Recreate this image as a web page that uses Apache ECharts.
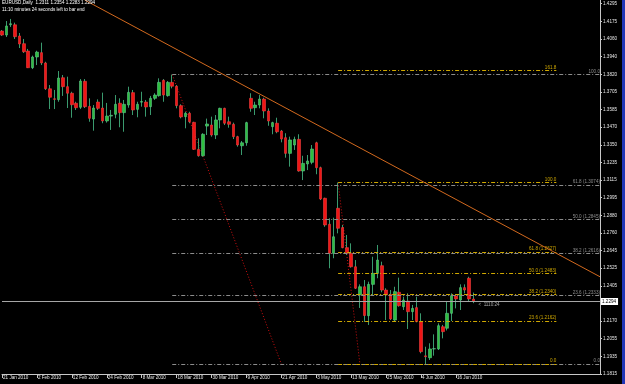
<!DOCTYPE html>
<html><head><meta charset="utf-8">
<script src="https://cdn.jsdelivr.net/npm/echarts@6/dist/echarts.min.js"></script>
<style>html,body{margin:0;padding:0;background:#000;}#c{width:625px;height:384px;}</style>
</head><body><div id="c"></div>
<script>
// ---- data ----
const dates = ['21 Jan 2010','22 Jan 2010','25 Jan 2010','26 Jan 2010','27 Jan 2010','28 Jan 2010','29 Jan 2010','1 Feb 2010',
'2 Feb 2010','3 Feb 2010','4 Feb 2010','5 Feb 2010','8 Feb 2010','9 Feb 2010','10 Feb 2010','11 Feb 2010',
'12 Feb 2010','15 Feb 2010','16 Feb 2010','17 Feb 2010','18 Feb 2010','19 Feb 2010','22 Feb 2010','23 Feb 2010',
'24 Feb 2010','25 Feb 2010','26 Feb 2010','1 Mar 2010','2 Mar 2010','3 Mar 2010','4 Mar 2010','5 Mar 2010',
'8 Mar 2010','9 Mar 2010','10 Mar 2010','11 Mar 2010','12 Mar 2010','15 Mar 2010','16 Mar 2010','17 Mar 2010',
'18 Mar 2010','19 Mar 2010','22 Mar 2010','23 Mar 2010','24 Mar 2010','25 Mar 2010','26 Mar 2010','29 Mar 2010',
'30 Mar 2010','31 Mar 2010','1 Apr 2010','2 Apr 2010','5 Apr 2010','6 Apr 2010','7 Apr 2010','8 Apr 2010',
'9 Apr 2010','12 Apr 2010','13 Apr 2010','14 Apr 2010','15 Apr 2010','16 Apr 2010','19 Apr 2010','20 Apr 2010',
'21 Apr 2010','22 Apr 2010','23 Apr 2010','26 Apr 2010','27 Apr 2010','28 Apr 2010','29 Apr 2010','30 Apr 2010',
'3 May 2010','4 May 2010','5 May 2010','6 May 2010','7 May 2010','10 May 2010','11 May 2010','12 May 2010',
'13 May 2010','14 May 2010','17 May 2010','18 May 2010','19 May 2010','20 May 2010','21 May 2010','24 May 2010',
'25 May 2010','26 May 2010','27 May 2010','28 May 2010','31 May 2010','1 Jun 2010','2 Jun 2010','3 Jun 2010',
'4 Jun 2010','7 Jun 2010','8 Jun 2010','9 Jun 2010','10 Jun 2010','11 Jun 2010','14 Jun 2010','15 Jun 2010',
'16 Jun 2010','17 Jun 2010','18 Jun 2010','21 Jun 2010','22 Jun 2010'];

const open = [1.4107,1.4080,1.4149,1.4149,1.4074,1.4022,1.3973,1.3861,1.3933,1.3962,
1.3893,1.3720,1.3653,1.3647,1.3794,1.3734,1.3690,1.3623,1.3596,1.3770,
1.3602,1.3517,1.3631,1.3591,1.3504,1.3537,1.3549,1.3623,1.3560,1.3611,
1.3694,1.3582,1.3630,1.3631,1.3600,1.3656,1.3674,1.3777,1.3674,1.3763,
1.3737,1.3607,1.3533,1.3556,1.3495,1.3314,1.3271,1.3470,1.3477,1.3410,
1.3511,1.3589,1.3499,1.3482,1.3399,1.3338,1.3358,1.3656,1.3593,1.3611,
1.3651,1.3571,1.3466,1.3489,1.3437,1.3392,1.3287,1.3343,1.3381,1.3169,
1.3216,1.3227,1.3358,1.3191,1.2986,1.2812,1.2617,1.2919,1.2789,1.2655,
1.2617,1.2527,1.2338,1.2393,1.2199,1.2409,1.2483,1.2534,1.2371,1.2342,
1.2170,1.2356,1.2259,1.2297,1.2226,1.2253,1.2159,1.1930,1.1917,1.1976,
1.1976,1.2125,1.2115,1.2215,1.2331,1.2304,1.2387,1.2450,1.2311];
const close = [1.4080,1.4141,1.4156,1.4069,1.4020,1.3968,1.3861,1.3933,1.3966,1.3893,
1.3720,1.3663,1.3649,1.3792,1.3734,1.3690,1.3613,1.3593,1.3772,1.3600,
1.3522,1.3591,1.3589,1.3504,1.3537,1.3542,1.3616,1.3560,1.3616,1.3696,
1.3578,1.3616,1.3635,1.3598,1.3656,1.3678,1.3763,1.3678,1.3763,1.3737,
1.3607,1.3531,1.3556,1.3499,1.3314,1.3271,1.3415,1.3484,1.3410,1.3511,
1.3589,1.3489,1.3482,1.3399,1.3343,1.3358,1.3493,1.3589,1.3611,1.3651,
1.3571,1.3504,1.3493,1.3432,1.3383,1.3287,1.3377,1.3381,1.3169,1.3220,
1.3236,1.3316,1.3191,1.2981,1.2807,1.2617,1.2728,1.2785,1.2655,1.2617,
1.2527,1.2383,1.2393,1.2200,1.2409,1.2483,1.2572,1.2371,1.2338,1.2177,
1.2360,1.2266,1.2304,1.2226,1.2248,1.2159,1.1958,1.1924,1.1976,1.1978,
1.2132,1.2092,1.2215,1.2333,1.2311,1.2387,1.2371,1.2311,1.2294];
const low = [1.4074,1.4067,1.4134,1.4054,1.3993,1.3960,1.3859,1.3852,1.3879,1.3879,
1.3712,1.3584,1.3584,1.3633,1.3672,1.3591,1.3526,1.3578,1.3584,1.3591,
1.3499,1.3439,1.3578,1.3489,1.3493,1.3444,1.3522,1.3462,1.3432,1.3593,
1.3544,1.3529,1.3600,1.3533,1.3544,1.3645,1.3667,1.3633,1.3667,1.3723,
1.3589,1.3522,1.3455,1.3489,1.3310,1.3265,1.3265,1.3410,1.3399,1.3383,
1.3455,1.3477,1.3459,1.3383,1.3332,1.3276,1.3338,1.3566,1.3544,1.3589,
1.3522,1.3472,1.3415,1.3422,1.3361,1.3258,1.3198,1.3310,1.3164,1.3108,
1.3175,1.3214,1.3147,1.2974,1.2795,1.2517,1.2584,1.2751,1.2651,1.2606,
1.2521,1.2378,1.2251,1.2157,1.2137,1.2333,1.2450,1.2356,1.2170,1.2170,
1.2163,1.2259,1.2237,1.2110,1.2170,1.2155,1.1947,1.1875,1.1902,1.1931,
1.1969,1.2047,1.2100,1.2163,1.2248,1.2237,1.2349,1.2293,1.2283];
const high = [1.4114,1.4174,1.4188,1.4163,1.4094,1.4054,1.3987,1.3942,1.3975,1.4029,
1.3901,1.3745,1.3712,1.3839,1.3812,1.3801,1.3700,1.3633,1.3785,1.3785,
1.3656,1.3611,1.3649,1.3694,1.3625,1.3578,1.3678,1.3656,1.3645,1.3734,
1.3712,1.3633,1.3700,1.3645,1.3672,1.3690,1.3790,1.3785,1.3772,1.3815,
1.3745,1.3616,1.3566,1.3566,1.3499,1.3388,1.3422,1.3520,1.3533,1.3544,
1.3593,1.3593,1.3533,1.3493,1.3405,1.3370,1.3499,1.3690,1.3633,1.3678,
1.3660,1.3589,1.3499,1.3526,1.3444,1.3422,1.3399,1.3399,1.3415,1.3271,
1.3276,1.3343,1.3365,1.3198,1.2990,1.2852,1.2856,1.3091,1.2807,1.2740,
1.2684,1.2572,1.2409,1.2438,1.2427,1.2594,1.2673,1.2561,1.2383,1.2371,
1.2393,1.2454,1.2326,1.2349,1.2271,1.2326,1.2215,1.1991,1.2014,1.2074,
1.2148,1.2137,1.2297,1.2349,1.2342,1.2409,1.2409,1.2460,1.2354];

// right price-scale tick labels, bottom to top
const priceTickLabels = ['1.1815','1.1935','1.2055','1.2170','','1.2405','1.2525','1.2645','1.2760','1.2880',
'1.2995','1.3115','1.3235','1.3350','1.3470','1.3585','1.3705','1.3820','1.3940','1.4060','1.4175','1.4295'];

// drawing objects (bar index, price)
const trendA = [18.93, 1.4315];
const trendB = [137, 1.2460];
const fibLevelsGrey = [0, 23.6, 38.2, 50, 61.8, 100];
const fibLevelsYellow = [0, 23.6, 38.2, 50, 61.8, 100, 161.8];
const greyFibHigh = [39, 1.3815];
const greyFibLow = [64, 1.1875];
const yellowFibHigh = [77, 1.30915];
const yellowFibLow = [82, 1.1875];
const greyFibEnd = 137;
const yellowFibEnd = 127;

const headerLine1 = 'EURUSD,Daily  1.2311 1.2354 1.2283 1.2294';
const headerLine2 = '11:10 minutes 24 seconds left to bar end';
const timerText = '<  1110:24';

// ---- chart ----
const FONT = 'Liberation Sans';
const FS = 4.6;
const SLOTS = 138;
const cats = dates.concat(new Array(SLOTS - dates.length).fill(''));
const wickData = dates.map((d, i) => [open[i], close[i], low[i], high[i]]);
const bodyData = dates.map((d, i) => [open[i], close[i], Math.min(open[i], close[i]), Math.max(open[i], close[i])]);
const lastIdx = dates.length - 1;
const lastClose = close[lastIdx];
const withPrice = [23.6, 38.2, 50, 61.8];

function fibMarks(hi, lo, levels, endX) {
  const x0 = Math.min(hi[0], lo[0]);
  return levels.map(lv => {
    const p = lo[1] + (hi[1] - lo[1]) * lv / 100;
    const name = withPrice.includes(lv) ? lv.toFixed(1) + ' (' + p.toFixed(4) + ')' : lv.toFixed(1);
    return [{coord: [x0, p], name: name}, {coord: [endX, p]}];
  });
}
function fibSeries(hi, lo, levels, endX, color) {
  return {
    type: 'line', xAxisIndex: 1, yAxisIndex: 0, data: [hi, lo], symbol: 'none',
    lineStyle: {color: '#d01010', width: 1, type: [1, 2]}, z: 3, silent: true,
    markLine: {
      symbol: ['none', 'none'], silent: true, animation: false,
      lineStyle: {color: color, width: 1, type: [4, 2, 1, 2]},
      label: {show: true, position: 'insideEndTop', formatter: '{b}', color: color,
        fontSize: FS, fontFamily: FONT, distance: [0, 0.5], padding: 0},
      emphasis: {disabled: true},
      data: fibMarks(hi, lo, levels, endX)
    }
  };
}

const chart = echarts.init(document.getElementById('c'));
chart.setOption({
  animation: false,
  backgroundColor: '#000',
  title: {
    text: headerLine1, subtext: headerLine2, left: 2, top: 0.5, padding: 0, itemGap: 1.5,
    textStyle: {color: '#fff', fontSize: FS, fontWeight: 'normal', fontFamily: FONT, lineHeight: 5},
    subtextStyle: {color: '#fff', fontSize: FS, fontFamily: FONT, lineHeight: 5}
  },
  grid: {left: 0.7, right: 25, top: 0, bottom: 10},
  xAxis: [{
    type: 'category', data: cats, boundaryGap: false,
    axisLine: {lineStyle: {color: '#c8c8c8', width: 1}},
    axisTick: {show: true, length: 4, interval: (i, v) => i % 8 === 0 && v !== '', lineStyle: {color: '#c8c8c8'}},
    axisLabel: {interval: (i, v) => i % 8 === 0 && v !== '', align: 'left', margin: 1.5,
      color: '#e6e6e6', fontSize: FS, fontFamily: FONT, padding: [0, 0, 0, 1]},
    splitLine: {show: false}
  }, {
    type: 'value', min: 0, max: SLOTS - 1, show: false
  }],
  yAxis: [{
    type: 'value', min: 1.18082, max: 1.4315, show: false, scale: true
  }, {
    type: 'value', min: 0, max: 21.21, interval: 1, position: 'right',
    axisLine: {show: true, lineStyle: {color: '#c8c8c8'}},
    axisTick: {show: true, length: 2, lineStyle: {color: '#c8c8c8'}},
    axisLabel: {color: '#e6e6e6', fontSize: FS, fontFamily: FONT, margin: 3, showMaxLabel: false,
      formatter: v => Math.abs(v - Math.round(v)) < 1e-6 ? (priceTickLabels[Math.round(v)] || '') : ''},
    splitLine: {show: false}
  }],
  series: [
    fibSeries(greyFibHigh, greyFibLow, fibLevelsGrey, greyFibEnd, '#8c8c8c'),
    fibSeries(yellowFibHigh, yellowFibLow, fibLevelsYellow, yellowFibEnd, '#d0a800'),
    {
      // wicks
      type: 'candlestick', xAxisIndex: 0, yAxisIndex: 0, data: wickData, barWidth: 1, z: 4, silent: true,
      itemStyle: {color: '#3a9a6e', color0: '#3a9a6e', borderColor: '#3a9a6e', borderColor0: '#3a9a6e', borderWidth: 1},
      markPoint: {
        symbol: 'circle', symbolSize: 0, silent: true, animation: false,
        label: {show: true, position: 'right', formatter: timerText, color: '#a8a8a8', fontSize: FS,
          fontFamily: FONT, offset: [0, 3]},
        data: [{coord: [lastIdx, lastClose]}]
      }
    },
    {
      // bodies
      type: 'candlestick', xAxisIndex: 0, yAxisIndex: 0, data: bodyData, barWidth: 3, barGap: '-100%', z: 4, silent: true,
      itemStyle: {color: '#2fbf3f', color0: '#f01515', borderColor: '#5ec48a', borderColor0: '#f04040', borderWidth: 0.6}
    },
    {
      type: 'line', xAxisIndex: 1, yAxisIndex: 0, data: [trendA, trendB], symbol: 'none',
      lineStyle: {color: '#d2691e', width: 1}, z: 5, silent: true
    },
    {
      type: 'line', xAxisIndex: 1, yAxisIndex: 0, data: [[0, lastClose], [SLOTS - 1, lastClose]], symbol: 'none',
      lineStyle: {color: '#a8a8a8', width: 1}, z: 5, silent: true,
      endLabel: {show: true, formatter: lastClose.toFixed(4), backgroundColor: '#fff', color: '#000',
        fontSize: FS, fontFamily: FONT, padding: [1, 2, 1, 1], distance: 1}
    }
  ],
  graphic: [{type: 'rect', right: 0, top: 0, shape: {width: 3, height: 384}, style: {fill: '#2235b5'}}]
});
</script></body></html>
